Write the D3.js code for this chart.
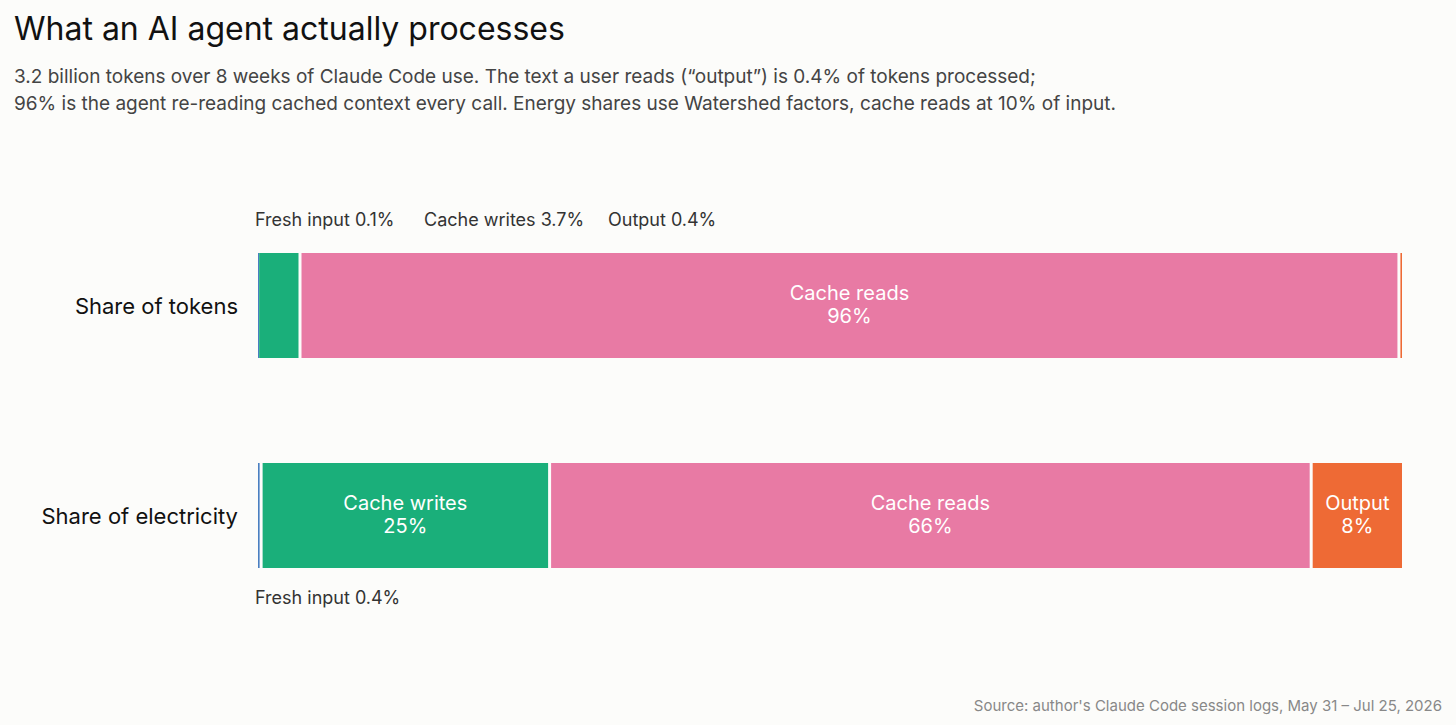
<!DOCTYPE html>
<html><head><meta charset="utf-8">
<script src="https://cdn.jsdelivr.net/npm/d3@7"></script>
<style>
body{margin:0;background:#fcfcfa;font-family:Inter,"Liberation Sans",sans-serif;}
</style></head><body>
<svg id="chart" width="1456" height="725"></svg>
<script>
const rows = ["Share of tokens", "Share of electricity"];
const segments = ["Fresh input", "Cache writes", "Cache reads", "Output"];
const colors = ["#4a7fc1", "#1aaf7a", "#e87aa4", "#ee6a35"];
const tokenShares = [0.1, 3.7, 96, 0.4];
const electricityShares = [0.4, 25, 66, 8];
const tokenLabels = ["0.1%", "3.7%", "96%", "0.4%"];
const electricityLabels = ["0.4%", "25%", "66%", "8%"];

const svg = d3.select("#chart");
svg.append("text").attr("x", 14).attr("y", 40).attr("font-size", 32).attr("fill", "#111")
  .text("What an AI agent actually processes");
svg.append("text").attr("x", 14).attr("y", 83).attr("font-size", 19).attr("fill", "#444")
  .text("3.2 billion tokens over 8 weeks of Claude Code use. The text a user reads (\u201coutput\u201d) is 0.4% of tokens processed;");
svg.append("text").attr("x", 14).attr("y", 110).attr("font-size", 19).attr("fill", "#444")
  .text("96% is the agent re-reading cached context every call. Energy shares use Watershed factors, cache reads at 10% of input.");

const y = d3.scaleBand().domain(rows).range([253, 568]).paddingInner(1);
const bh = 105;
y.paddingInner(0);
const yPos = {"Share of tokens": 253, "Share of electricity": 463};

const data = [tokenShares, electricityShares];
const labels = [tokenLabels, electricityLabels];
data.forEach((vals, ri) => {
  const row = rows[ri];
  const x = d3.scaleLinear().domain([0, d3.sum(vals)]).range([258, 1405]);
  let acc = 0;
  const segs = vals.map((v, i) => { const s = {i, v, x0: x(acc), x1: x(acc + v)}; acc += v; return s; });
  const top = yPos[row];
  svg.append("text").attr("x", 238).attr("y", top + bh / 2 + 8).attr("text-anchor", "end")
    .attr("font-size", 22).attr("fill", "#111").text(row);
  svg.selectAll(null).data(segs).join("rect")
    .attr("x", d => d.x0)
    .attr("y", top).attr("height", bh)
    .attr("width", d => { const w = d.x1 - d.x0; return w > 4 ? w - 3 : Math.max(w - 0.5, 1); })
    .attr("fill", d => colors[d.i]);
  segs.filter(d => d.x1 - d.x0 > 80).forEach(d => {
    const cx = (d.x0 + d.x1 - 3) / 2;
    const t = svg.append("text").attr("x", cx).attr("text-anchor", "middle")
      .attr("font-size", 20).attr("fill", "#fff");
    t.append("tspan").attr("x", cx).attr("y", top + 47).text(segments[d.i]);
    t.append("tspan").attr("x", cx).attr("y", top + 70).text(labels[ri][d.i]);
  });
});

// outside labels for small segments
const tokenNote = [0, 1, 3].map(i => segments[i] + " " + tokenLabels[i]);
const xs = [255, 424, 608];
tokenNote.forEach((t, k) => svg.append("text").attr("x", xs[k]).attr("y", 226)
  .attr("font-size", 18).attr("fill", "#333").text(t));
svg.append("text").attr("x", 255).attr("y", 604).attr("font-size", 18).attr("fill", "#333")
  .text(segments[0] + " " + electricityLabels[0]);

svg.append("text").attr("x", 1442).attr("y", 711).attr("text-anchor", "end")
  .attr("font-size", 15).attr("fill", "#888")
  .text("Source: author's Claude Code session logs, May 31 \u2013 Jul 25, 2026");
</script>
</body></html>
